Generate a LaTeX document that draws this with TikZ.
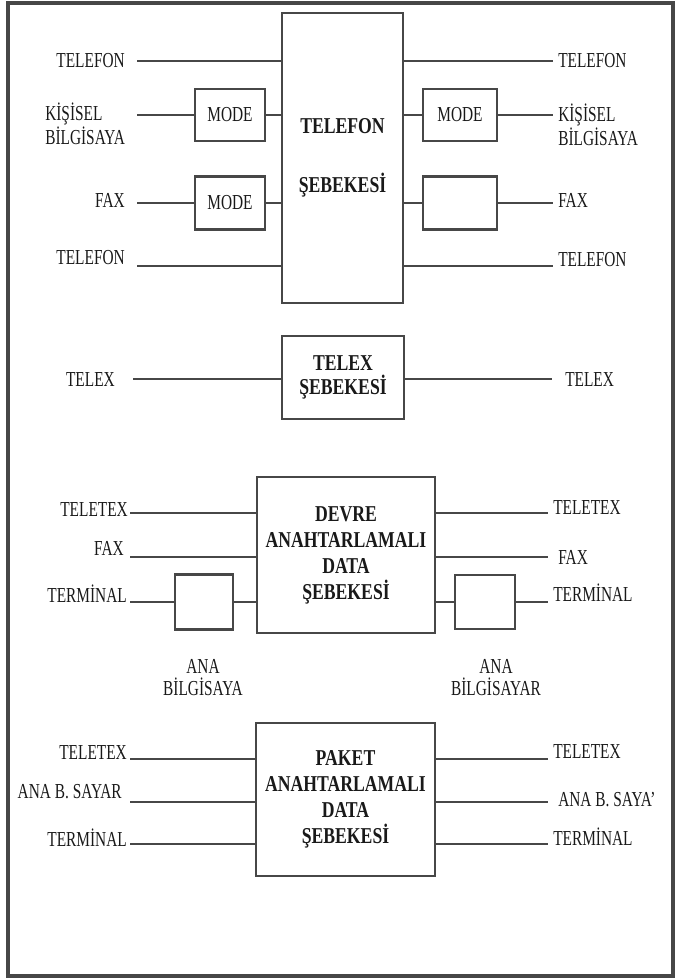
\documentclass[tikz,border=0pt]{standalone}
\usepackage{fontspec}
\setmainfont[FakeStretch=0.72, BoldFeatures={FakeStretch=0.78}]{Liberation Serif}
\usepackage{tikz}
\usetikzlibrary{positioning, calc}
\definecolor{ink}{gray}{0.1}
\definecolor{wiregray}{gray}{0.28}
\tikzstyle{net} = [rectangle, draw=wiregray, line width=2.2pt, align=center, text=ink, inner sep=0pt, font=\fontsize{17}{19.5}\selectfont\bfseries]
\tikzstyle{modem} = [rectangle, draw=wiregray, line width=2.2pt, text=ink, inner sep=0pt, font=\fontsize{16}{18}\selectfont]
\tikzstyle{lbl} = [text=ink, inner sep=0pt, font=\fontsize{16}{16.5}\selectfont]
\tikzstyle{link} = [draw=wiregray, line width=2.2pt]
\tikzstyle{frame} = [draw=wiregray, line width=2.6pt]

\begin{document}
\begin{tikzpicture}[x=0.75pt, y=-0.75pt]
    \useasboundingbox (0,0) rectangle (679,979);
    \draw[frame] (8,3) rectangle (673,976);

    \node[net, minimum width=90.75pt, minimum height=217.5pt] (tel) at (342.5,158) {TELEFON\\[25pt]ŞEBEKESİ};
    \node[net, minimum width=91.5pt, minimum height=62.25pt] (tlx) at (343,377.5) {TELEX\\[-2pt]ŞEBEKESİ};
    \node[net, minimum width=133.5pt, minimum height=117pt] (dev) at (346,555) {DEVRE\\ANAHTARLAMALI\\DATA\\ŞEBEKESİ};
    \node[net, minimum width=134.25pt, minimum height=114.75pt] (pak) at (345.5,799.5) {PAKET\\ANAHTARLAMALI\\DATA\\ŞEBEKESİ};

    \node[modem, minimum width=52.5pt, minimum height=39pt] (m1) at (230,115) {MODE};
    \node[modem, minimum width=55.5pt, minimum height=39pt] (m2) at (460,115) {MODE};
    \node[modem, minimum width=52.5pt, minimum height=39.75pt] (m3) at (230,203) {MODE};
    \node[modem, minimum width=55.5pt, minimum height=39.75pt] (m4) at (460,203) {};
    \node[modem, minimum width=43.5pt, minimum height=41.25pt] (k1) at (204,602) {};
    \node[modem, minimum width=45pt, minimum height=40.5pt] (k2) at (485,602) {};

    \node[lbl, anchor=east] (lTel1) at (125,61) {TELEFON};
    \node[lbl, anchor=west, align=left] (lPc) at (45,124) {KİŞİSEL\\BİLGİSAYA};
    \node[lbl, anchor=east] (lFax1) at (125,200) {FAX};
    \node[lbl, anchor=east] (lTel2) at (125,258) {TELEFON};
    \node[lbl, anchor=east] (lTlx) at (115,380) {TELEX};
    \node[lbl, anchor=east] (lTtx1) at (128,510) {TELETEX};
    \node[lbl, anchor=east] (lFax2) at (124,548) {FAX};
    \node[lbl, anchor=east] (lTrm1) at (127,594) {TERMİNAL};
    \node[lbl, align=center] (lAna) at (203,678) {ANA\\BİLGİSAYA};
    \node[lbl, anchor=east] (lTtx2) at (127,753) {TELETEX};
    \node[lbl, anchor=east] (lAbs) at (122,792) {ANA B. SAYAR};
    \node[lbl, anchor=east] (lTrm2) at (127,838) {TERMİNAL};

    \node[lbl, anchor=west] (rTel1) at (558,61) {TELEFON};
    \node[lbl, anchor=west, align=left] (rPc) at (558,125) {KİŞİSEL\\BİLGİSAYA};
    \node[lbl, anchor=west] (rFax1) at (558,200) {FAX};
    \node[lbl, anchor=west] (rTel2) at (558,260) {TELEFON};
    \node[lbl, anchor=west] (rTlx) at (565,380) {TELEX};
    \node[lbl, anchor=west] (rTtx1) at (553,508) {TELETEX};
    \node[lbl, anchor=west] (rFax2) at (558,557) {FAX};
    \node[lbl, anchor=west] (rTrm1) at (553,593) {TERMİNAL};
    \node[lbl, align=center] (rAna) at (496,678) {ANA\\BİLGİSAYAR};
    \node[lbl, anchor=west] (rTtx2) at (553,752) {TELETEX};
    \node[lbl, anchor=west] (rAbs) at (558,800) {ANA B. SAYA'};
    \node[lbl, anchor=west] (rTrm2) at (553,837) {TERMİNAL};

    \coordinate (a1) at (137,61);  \coordinate (b1) at (553,61);
    \coordinate (a2) at (137,115); \coordinate (b2) at (553,115);
    \coordinate (a3) at (137,203); \coordinate (b3) at (553,203);
    \coordinate (a4) at (137,266); \coordinate (b4) at (553,266);
    \coordinate (a5) at (133,379); \coordinate (b5) at (552,379);
    \coordinate (a6) at (130,513); \coordinate (b6) at (548,513);
    \coordinate (a7) at (130,557); \coordinate (b7) at (548,557);
    \coordinate (a8) at (130,602); \coordinate (b8) at (548,602);
    \coordinate (a9) at (130,759); \coordinate (b9) at (548,759);
    \coordinate (a10) at (130,802); \coordinate (b10) at (548,802);
    \coordinate (a11) at (130,844); \coordinate (b11) at (548,844);

    \draw[link] (a1) -- (a1 -| tel.west);
    \draw[link] (tel.east |- b1) -- (b1);
    \draw[link] (a2) -- (m1.west);
    \draw[link] (m1.east) -- (m1.east -| tel.west);
    \draw[link] (tel.east |- m2.west) -- (m2.west);
    \draw[link] (m2.east) -- (b2);
    \draw[link] (a3) -- (m3.west);
    \draw[link] (m3.east) -- (m3.east -| tel.west);
    \draw[link] (tel.east |- m4.west) -- (m4.west);
    \draw[link] (m4.east) -- (b3);
    \draw[link] (a4) -- (a4 -| tel.west);
    \draw[link] (tel.east |- b4) -- (b4);

    \draw[link] (a5) -- (a5 -| tlx.west);
    \draw[link] (tlx.east |- b5) -- (b5);

    \draw[link] (a6) -- (a6 -| dev.west);
    \draw[link] (dev.east |- b6) -- (b6);
    \draw[link] (a7) -- (a7 -| dev.west);
    \draw[link] (dev.east |- b7) -- (b7);
    \draw[link] (a8) -- (k1.west);
    \draw[link] (k1.east) -- (k1.east -| dev.west);
    \draw[link] (dev.east |- k2.west) -- (k2.west);
    \draw[link] (k2.east) -- (b8);

    \draw[link] (a9) -- (a9 -| pak.west);
    \draw[link] (pak.east |- b9) -- (b9);
    \draw[link] (a10) -- (a10 -| pak.west);
    \draw[link] (pak.east |- b10) -- (b10);
    \draw[link] (a11) -- (a11 -| pak.west);
    \draw[link] (pak.east |- b11) -- (b11);
\end{tikzpicture}
\end{document}
